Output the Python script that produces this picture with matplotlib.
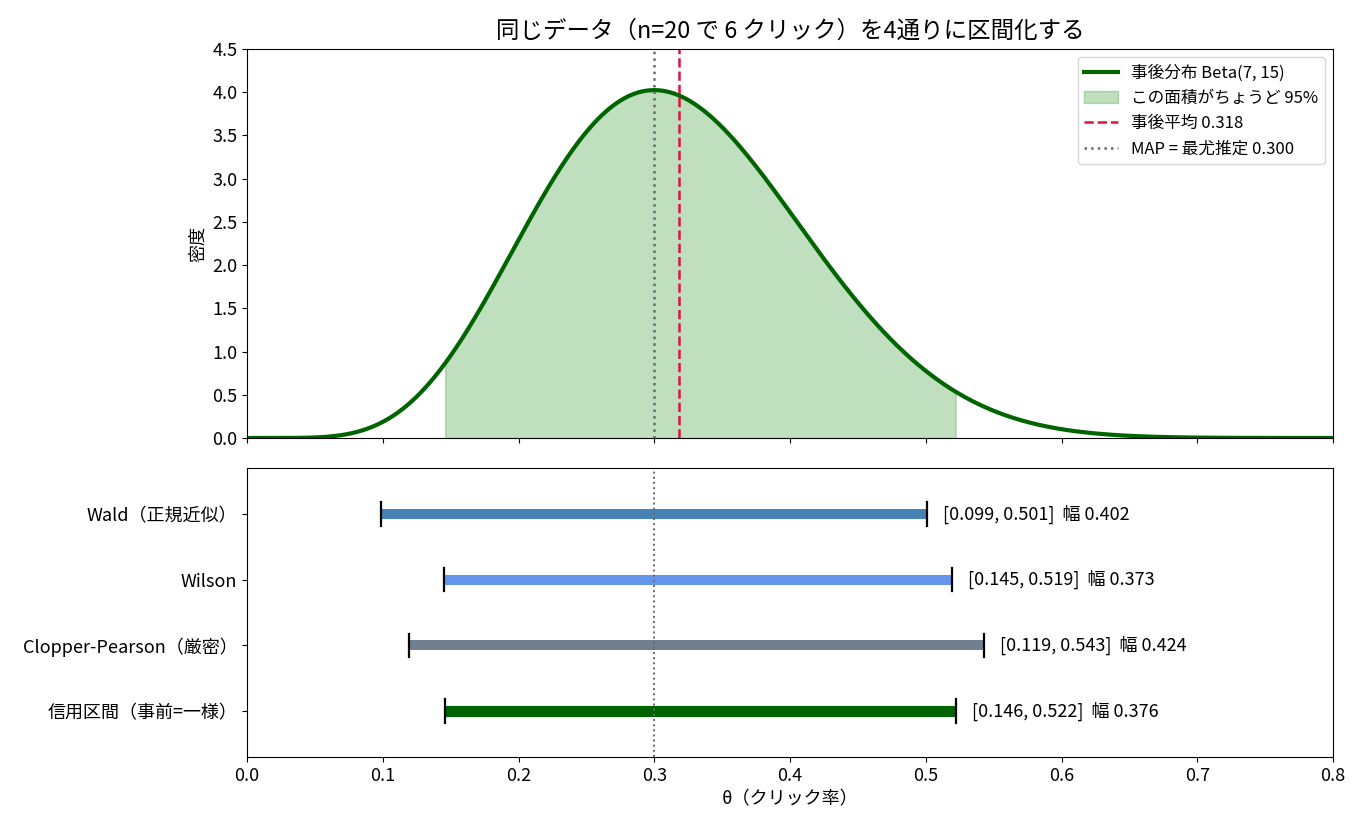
import math
import numpy as np
import matplotlib
matplotlib.use("Agg")
import matplotlib.pyplot as plt

plt.rcParams['font.family'] = ['Noto Sans CJK JP', 'DejaVu Sans']

# --- data ---
beta_a, beta_b = 7, 15
cred_lo, cred_hi = 0.146, 0.522
post_mean = 0.318
map_est = 0.300

methods = ["Wald（正規近似）", "Wilson", "Clopper-Pearson（厳密）", "信用区間（事前=一様）"]
lows = [0.099, 0.145, 0.119, 0.146]
highs = [0.501, 0.519, 0.543, 0.522]
widths = [0.402, 0.373, 0.424, 0.376]
colors = ["#4682B4", "#6495ED", "#708090", "#006400"]

theta = np.linspace(0, 0.8, 801)
Bconst = math.gamma(beta_a) * math.gamma(beta_b) / math.gamma(beta_a + beta_b)
dens = theta ** (beta_a - 1) * (1 - theta) ** (beta_b - 1) / Bconst

fig = plt.figure(figsize=(13.65, 8.32), dpi=100)
ax1 = fig.add_axes([247/1365, 1-438/832, 1086/1365, 389/832])
ax2 = fig.add_axes([247/1365, 1-757/832, 1086/1365, 289/832], sharex=ax1)

ax1.plot(theta, dens, color="#006400", lw=3.0, label="事後分布 Beta(7, 15)")
m = (theta >= cred_lo) & (theta <= cred_hi)
ax1.fill_between(theta[m], 0, dens[m], color="green", alpha=0.25, label="この面積がちょうど 95%")
ax1.axvline(post_mean, color="crimson", ls="--", lw=1.8, label="事後平均 0.318")
ax1.axvline(map_est, color="dimgray", ls=":", lw=1.8, label="MAP = 最尤推定 0.300")
ax1.set_xlim(0, 0.8)
ax1.set_ylim(0, 4.5)
ax1.set_ylabel("密度", fontsize=13)
ax1.set_title("同じデータ（n=20 で 6 クリック）を4通りに区間化する", fontsize=16.9, pad=8)
ax1.legend(loc="upper right", fontsize=12)
ax1.tick_params(labelbottom=False, labelsize=13)

ypos = [3, 2, 1, 0]
for y, lo, hi, w, c, name in zip(ypos, lows, highs, widths, colors, methods):
    lw = 8 if c == "#006400" else 7.2
    ax2.plot([lo, hi], [y, y], color=c, lw=lw, solid_capstyle="butt")
    ax2.plot([lo, lo], [y - 0.18, y + 0.18], color="black", lw=1.6)
    ax2.plot([hi, hi], [y - 0.18, y + 0.18], color="black", lw=1.6)
    ax2.text(hi + 0.012, y, f"[{lo:.3f}, {hi:.3f}]  幅 {w:.3f}", va="center", ha="left", fontsize=13)
ax2.axvline(map_est, color="dimgray", ls=":", lw=1.4)
ax2.set_yticks(ypos)
ax2.set_yticklabels(methods)
ax2.set_ylim(-0.7, 3.7)
ax2.set_xlim(0, 0.8)
ax2.set_xlabel("θ（クリック率）", fontsize=13)
ax2.tick_params(labelsize=13)

fig.savefig("out.png", dpi=100)
